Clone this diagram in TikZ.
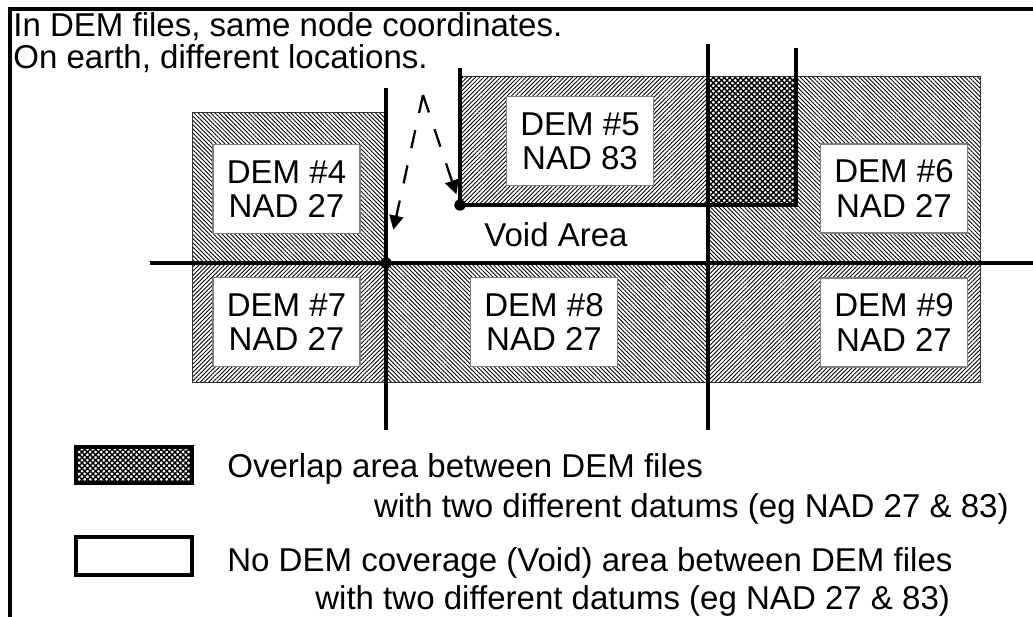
\documentclass[tikz,border=0pt]{standalone}
\usepackage{fontspec}
\setmainfont{Liberation Sans}
\usetikzlibrary{patterns.meta,arrows.meta}

\tikzset{
  wall/.style={line width=2pt},
  tile/.style={draw=black!80, line width=0.5pt},
  hatchne/.style={pattern={Lines[angle=45,distance=1.7pt,line width=0.5pt]}},
  hatchnw/.style={pattern={Lines[angle=-45,distance=1.7pt,line width=0.5pt]}},
  overlap/.style={pattern={Hatch[angle=45,distance=2.2pt,line width=0.8pt]}},
  datum/.style={draw=black!50, line width=1pt, fill=white, align=center,
    minimum width=2.94cm, minimum height=1.78cm, inner sep=0pt},
  note/.style={anchor=base west, inner sep=0pt},
  dot/.style={circle, fill=black, inner sep=0pt, minimum size=6.5pt},
  datumshift/.style={dash pattern=on 10.5pt off 10pt, line width=1.3pt,
    -{Triangle[length=8pt,width=8pt]}}
}

\begin{document}
\begin{tikzpicture}[x=0.02cm,y=-0.02cm,font=\fontsize{18.8}{19.5}\selectfont]
  \useasboundingbox (0,0) rectangle (1033,616);
  \clip (0,0) rectangle (1033,616);
  \draw[wall] (10,9) rectangle (1060,640);

  % the DEM tiles
  \path[hatchnw] (192,112) rectangle (386,263);
  \path[hatchne] (460,76) rectangle (708,205);
  \path[hatchnw] (708,76) rectangle (980,263);
  \fill[white] (708,76) rectangle (796,205);
  \path[overlap] (708,76) rectangle (796,205);
  \path[hatchne] (192,263) rectangle (386,382);
  \path[hatchnw] (386,263) rectangle (708,382);
  \path[hatchne] (708,263) rectangle (980,382);
  \draw[tile] (192,112) rectangle (386,382);
  \draw[tile] (386,263) rectangle (708,382) (708,263) rectangle (980,382);
  \draw[tile] (460,76) rectangle (796,205) (708,76) rectangle (980,263);

  % tile edges
  \draw[wall] (150,263) -- (1040,263);
  \draw[wall] (386,88) -- (386,430);
  \draw[wall] (708,44) -- (708,430);
  \draw[wall] (796,48) -- (796,205) -- (460,205) -- (460,68);

  \node[datum] (dem4) at (286.5,189) {DEM \#4\\NAD 27};
  \node[datum] (dem5) at (580,141) {DEM \#5\\NAD 83};
  \node[datum] (dem6) at (894,188.5) {DEM \#6\\NAD 27};
  \node[datum] (dem7) at (286.5,322) {DEM \#7\\NAD 27};
  \node[datum] (dem8) at (544,322) {DEM \#8\\NAD 27};
  \node[datum] (dem9) at (894,322.5) {DEM \#9\\NAD 27};
  \node (void) at (556,235) {Void Area};

  % same coordinates, two places
  \node[dot] (p27) at (386,263) {};
  \node[dot] (p83) at (460,205) {};
  \coordinate (apex) at (423,95);
  \draw[datumshift, shorten >=16pt] (apex) -- (p27);
  \draw[datumshift, shorten >=3pt] (apex) -- (p83);

  \node[note] (top1) at (13,36) {In DEM files, same node coordinates.};
  \node[note] (top2) at (13,68) {On earth, different locations.};

  % legend
  \path[overlap] (76,447) rectangle (192,483);
  \draw[line width=1.8pt] (76,447) rectangle (192,483);
  \draw[line width=1.8pt, fill=white] (76,537) rectangle (192,575);
  \node[note] (leg1) at (227,477) {Overlap area between DEM files};
  \node[note, anchor=base east] (leg2) at (1009,517) {with two different datums (eg NAD 27 \& 83)};
  \node[note] (leg3) at (227,571) {No DEM coverage (Void) area between DEM files};
  \node[note] (leg4) at (315,609) {with two different datums (eg NAD 27 \& 83)};
\end{tikzpicture}
\end{document}
